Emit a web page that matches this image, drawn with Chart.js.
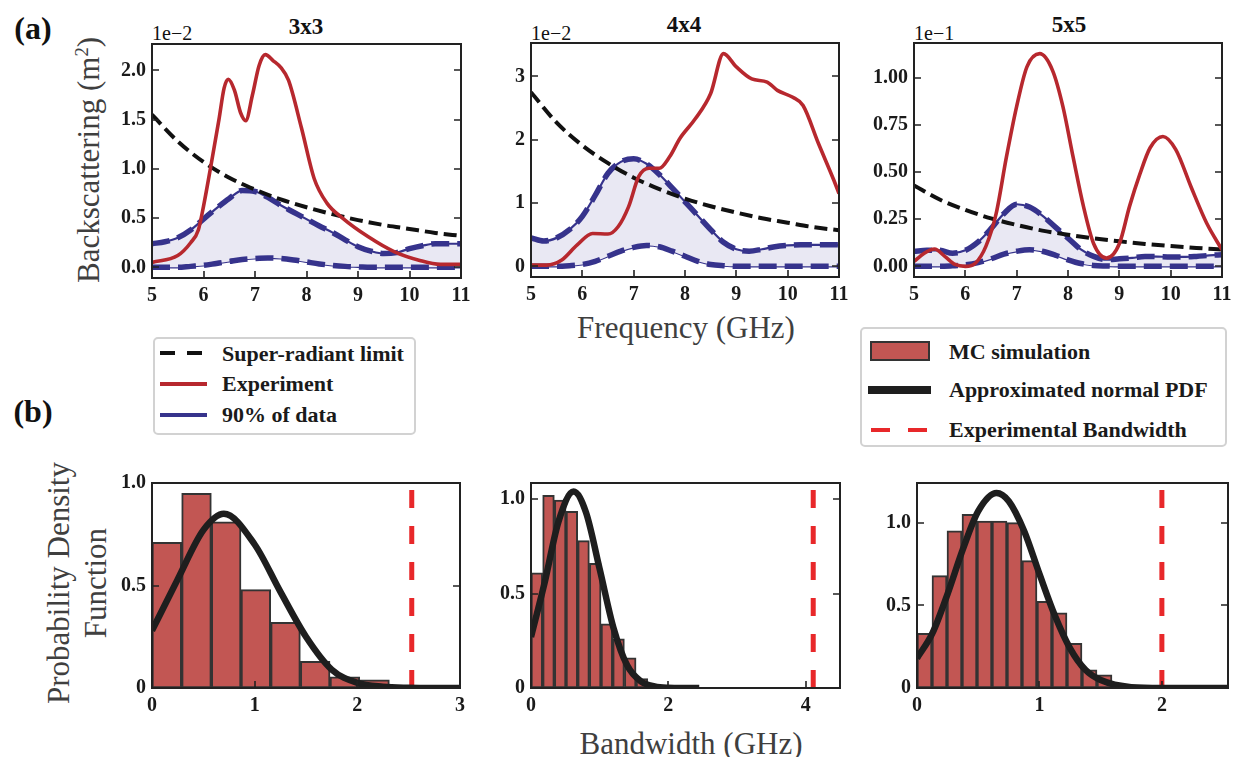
<!DOCTYPE html>
<html><head><meta charset="utf-8">
<script src="https://cdn.jsdelivr.net/npm/chart.js"></script>
<style>
html,body{margin:0;padding:0;background:#fff;}
#page{position:relative;width:1239px;height:757px;overflow:hidden;font-family:'Liberation Serif','Times New Roman',serif;color:#111;}
.t{position:absolute;white-space:nowrap;transform:translate(-50%,-50%);line-height:1;}
.l{position:absolute;white-space:nowrap;transform:translateY(-50%);line-height:1;}
.rot{transform:translate(-50%,-50%) rotate(-90deg);}
.ax{color:#3f3f3f;font-size:31px;}
.lg{font-size:22px;font-weight:bold;color:#1a1a1a;}
.box{position:absolute;border:2px solid #d2d2d2;border-radius:5px;box-sizing:border-box;}
.h{position:absolute;}
sup{font-size:0.6em;position:relative;top:-0.6em;vertical-align:baseline;}
canvas{position:absolute;}
</style></head><body><div id="page">
<div class="t" style="left:33px;top:28px;font-size:32px;font-weight:bold;">(a)</div>
<div class="t" style="left:33px;top:411px;font-size:32px;font-weight:bold;">(b)</div>
<div class="t" style="left:306px;top:26px;font-size:23px;font-weight:bold;">3x3</div>
<div class="t" style="left:684px;top:24px;font-size:23px;font-weight:bold;">4x4</div>
<div class="t" style="left:1069px;top:24px;font-size:23px;font-weight:bold;">5x5</div>
<div class="l" style="left:152px;top:33px;font-size:20px;">1e−2</div>
<div class="l" style="left:531px;top:33px;font-size:20px;">1e−2</div>
<div class="l" style="left:914px;top:33px;font-size:20px;">1e−1</div>
<div class="t rot ax" style="left:88px;top:160px;">Backscattering (m<sup>2</sup>)</div>
<div class="t ax" style="left:686px;top:327px;">Frequency (GHz)</div>
<div class="t rot ax" style="left:78px;top:583px;line-height:1.18;text-align:center;">Probability Density<br>Function</div>
<div class="t ax" style="left:691px;top:743px;">Bandwidth (GHz)</div>

<div class="box" style="left:153px;top:337px;width:263px;height:98px;"></div>
<div class="h" style="left:160px;top:351px;width:15px;height:4px;background:#111;"></div>
<div class="h" style="left:187px;top:351px;width:15px;height:4px;background:#111;"></div>
<div class="h" style="left:160px;top:382px;width:47px;height:4px;background:#b7282e;"></div>
<div class="h" style="left:160px;top:413px;width:47px;height:4px;background:#36338c;"></div>
<div class="l lg" style="left:222px;top:354px;">Super-radiant limit</div>
<div class="l lg" style="left:222px;top:384px;">Experiment</div>
<div class="l lg" style="left:222px;top:415px;">90% of data</div>

<div class="box" style="left:860px;top:327px;width:367px;height:120px;"></div>
<div class="h" style="left:870px;top:341px;width:60px;height:20px;box-sizing:border-box;background:#c25653;border:2.5px solid #333;"></div>
<div class="h" style="left:868px;top:386px;width:63px;height:8px;background:#1e1e1e;"></div>
<div class="h" style="left:871px;top:428px;width:19px;height:4px;background:#e8282a;"></div>
<div class="h" style="left:908px;top:428px;width:19px;height:4px;background:#e8282a;"></div>
<div class="l lg" style="left:949px;top:352px;">MC simulation</div>
<div class="l lg" style="left:949px;top:390px;">Approximated normal PDF</div>
<div class="l lg" style="left:949px;top:430px;">Experimental Bandwidth</div>
</div>
<script>
// ---------- data ----------
const freqTicks = [5, 6, 7, 8, 9, 10, 11];
const freqTickLabels = ['5', '6', '7', '8', '9', '10', '11'];

const limitFreq = [5, 5.5, 6, 6.5, 7, 7.5, 8, 8.5, 9, 9.5, 10, 10.5, 11];
const limit3 = [1.55, 1.28, 1.07, 0.91, 0.79, 0.69, 0.61, 0.54, 0.48, 0.43, 0.39, 0.35, 0.32];
const limit4 = [2.75, 2.27, 1.91, 1.63, 1.40, 1.22, 1.07, 0.95, 0.85, 0.76, 0.69, 0.62, 0.57];
const limit5 = [0.43, 0.355, 0.30, 0.255, 0.22, 0.19, 0.168, 0.149, 0.133, 0.119, 0.108, 0.098, 0.089];

const bandFreq = [5, 5.25, 5.5, 5.75, 6, 6.25, 6.5, 6.75, 7, 7.25, 7.5, 7.75, 8, 8.25, 8.5, 8.75, 9, 9.25, 9.5, 9.75, 10, 10.25, 10.5, 10.75, 11];
const upper3 = [0.24, 0.26, 0.30, 0.38, 0.49, 0.60, 0.70, 0.78, 0.77, 0.71, 0.63, 0.56, 0.49, 0.42, 0.355, 0.28, 0.21, 0.165, 0.14, 0.15, 0.19, 0.22, 0.24, 0.24, 0.24];
const lower3 = [0, 0, 0, 0.01, 0.02, 0.04, 0.06, 0.08, 0.09, 0.095, 0.09, 0.075, 0.055, 0.035, 0.02, 0.01, 0.005, 0, 0, 0, 0, 0, 0, 0, 0];
const upper4 = [0.45, 0.40, 0.45, 0.58, 0.79, 1.12, 1.47, 1.65, 1.70, 1.62, 1.45, 1.24, 1.02, 0.80, 0.58, 0.38, 0.27, 0.24, 0.27, 0.31, 0.33, 0.34, 0.34, 0.34, 0.34];
const lower4 = [0, 0, 0, 0.01, 0.03, 0.08, 0.16, 0.24, 0.30, 0.33, 0.31, 0.24, 0.16, 0.08, 0.03, 0.01, 0, 0, 0, 0, 0, 0, 0, 0, 0];
const upper5 = [0.08, 0.085, 0.085, 0.07, 0.085, 0.13, 0.20, 0.28, 0.33, 0.315, 0.27, 0.21, 0.15, 0.09, 0.053, 0.035, 0.04, 0.045, 0.053, 0.052, 0.05, 0.05, 0.053, 0.058, 0.062];
const lower5 = [0, 0, 0, 0.003, 0.008, 0.02, 0.04, 0.065, 0.08, 0.088, 0.08, 0.06, 0.035, 0.015, 0.005, 0.002, 0, 0, 0, 0, 0, 0, 0, 0, 0];

const exp3Freq = [5, 5.5, 5.75, 5.9, 6.0, 6.15, 6.3, 6.4, 6.48, 6.6, 6.72, 6.82, 6.95, 7.08, 7.2, 7.35, 7.5, 7.65, 7.9, 8.15, 8.4, 8.7, 9.2, 9.7, 10.2, 10.6, 11];
const exp3 = [0.05, 0.12, 0.25, 0.38, 0.62, 1.05, 1.5, 1.82, 1.91, 1.8, 1.57, 1.49, 1.75, 2.05, 2.16, 2.1, 2.03, 1.9, 1.42, 0.9, 0.65, 0.5, 0.31, 0.16, 0.07, 0.03, 0.03];
const exp4Freq = [5, 5.3, 5.6, 5.9, 6.2, 6.5, 6.7, 6.9, 7.1, 7.3, 7.5, 7.7, 7.9, 8.2, 8.5, 8.75, 9.0, 9.3, 9.6, 9.8, 10.1, 10.3, 10.6, 10.9, 11];
const exp4 = [0.02, 0.02, 0.1, 0.34, 0.52, 0.51, 0.63, 0.94, 1.42, 1.55, 1.55, 1.73, 2.02, 2.33, 2.73, 3.36, 3.15, 2.96, 2.91, 2.78, 2.67, 2.54, 1.94, 1.36, 1.15];
const exp5Freq = [5, 5.2, 5.4, 5.6, 5.8, 6.0, 6.2, 6.4, 6.6, 6.8, 7.0, 7.2, 7.45, 7.7, 7.9, 8.1, 8.3, 8.5, 8.75, 9.0, 9.2, 9.4, 9.6, 9.85, 10.1, 10.4, 10.7, 11];
const exp5 = [0.026, 0.07, 0.092, 0.053, 0.01, 0.0, 0.018, 0.106, 0.28, 0.58, 0.85, 1.06, 1.13, 1.04, 0.85, 0.58, 0.32, 0.12, 0.044, 0.12, 0.32, 0.49, 0.63, 0.69, 0.62, 0.42, 0.23, 0.088];

const yTicks3 = [0, 0.5, 1.0, 1.5, 2.0];
const yTickLabels3 = ['0.0', '0.5', '1.0', '1.5', '2.0'];
const yTicks4 = [0, 1, 2, 3];
const yTickLabels4 = ['0', '1', '2', '3'];
const yTicks5 = [0, 0.25, 0.5, 0.75, 1.0];
const yTickLabels5 = ['0.00', '0.25', '0.50', '0.75', '1.00'];

// histograms (bin edges, density)
const bw3Edges = [0, 0.289, 0.578, 0.867, 1.156, 1.445, 1.734, 2.023, 2.312];
const bw3Density = [0.71, 0.95, 0.81, 0.48, 0.32, 0.13, 0.055, 0.04];
const bw4Edges = [0, 0.17, 0.34, 0.51, 0.68, 0.85, 1.02, 1.19, 1.36, 1.53, 1.70, 1.87, 2.04, 2.21, 2.38];
const bw4Density = [0.61, 1.02, 0.995, 0.935, 0.78, 0.66, 0.34, 0.26, 0.16, 0.05, 0.02, 0.01, 0.01, 0.01];
const bw5Edges = [0, 0.1225, 0.245, 0.3675, 0.49, 0.6125, 0.735, 0.8575, 0.98, 1.1025, 1.225, 1.3475, 1.47, 1.5925];
const bw5Density = [0.33, 0.68, 0.95, 1.05, 1.01, 1.01, 1.0, 0.77, 0.525, 0.455, 0.27, 0.11, 0.08];

const pdf3X = [0, 0.25, 0.5, 0.7, 1.0, 1.25, 1.5, 1.75, 2.0, 2.25, 2.5, 2.75, 3.0];
const pdf3Y = [0.28, 0.53, 0.77, 0.85, 0.70, 0.47, 0.25, 0.09, 0.025, 0.006, 0.001, 0, 0];
const pdf4X = [0, 0.2, 0.4, 0.62, 0.8, 1.0, 1.2, 1.4, 1.6, 1.8, 2.0, 2.2, 2.45];
const pdf4Y = [0.27, 0.56, 0.88, 1.04, 0.93, 0.63, 0.32, 0.12, 0.035, 0.008, 0.001, 0, 0];
const pdf5X = [0, 0.125, 0.25, 0.375, 0.5, 0.65, 0.75, 0.875, 1.0, 1.125, 1.25, 1.375, 1.5, 1.75, 2.0, 2.54];
const pdf5Y = [0.18, 0.33, 0.57, 0.84, 1.07, 1.18, 1.13, 0.95, 0.69, 0.44, 0.24, 0.11, 0.048, 0.005, 0, 0];

const expBandwidth = [2.53, 4.11, 2.0];

const bwTicks3 = [0, 1, 2, 3], bwTickLabels3 = ['0', '1', '2', '3'];
const bwTicks4 = [0, 2, 4], bwTickLabels4 = ['0', '2', '4'];
const bwTicks5 = [0, 1, 2], bwTickLabels5 = ['0', '1', '2'];
const pdfTicks = [0, 0.5, 1.0], pdfTickLabels = ['0', '0.5', '1.0'];

// ---------- drawing ----------
const BLUE = '#36338c', LAV = '#e9e8f3', RED = '#b7282e', VRED = '#e8282a';
const FONT = {family: "'Liberation Serif','Times New Roman',serif", size: 20, weight: 'bold'};

const frameTicks = {
  id: 'frameTicks',
  afterDatasetsDraw(chart) {
    const {ctx, chartArea: a, scales: {x, y}} = chart;
    ctx.save();
    ctx.strokeStyle = '#222';
    ctx.lineWidth = 1.6;
    ctx.beginPath();
    x.ticks.forEach(t => { const p = Math.round(x.getPixelForValue(t.value)); ctx.moveTo(p, a.bottom); ctx.lineTo(p, a.bottom - 7); });
    y.ticks.forEach(t => { const p = Math.round(y.getPixelForValue(t.value)); ctx.moveTo(a.left, p); ctx.lineTo(a.left + 7, p); ctx.moveTo(a.right, p); ctx.lineTo(a.right - 7, p); });
    ctx.stroke();
    ctx.lineWidth = 2;
    ctx.strokeRect(a.left, a.top, a.right - a.left, a.bottom - a.top);
    ctx.restore();
  }
};

const pts = (xs, ys) => xs.map((x, i) => ({x: x, y: ys[i]}));
const line = (o) => Object.assign({type: 'line', pointRadius: 0, fill: false, cubicInterpolationMode: 'monotone', borderCapStyle: 'butt'}, o);

function panel(area, type, datasets, xs, ys) {
  const ML = 70, MT = 24, MR = 24, MB = 36;
  const w = area.r - area.l + ML + MR, h = area.b - area.t + MT + MB;
  const cv = document.createElement('canvas');
  cv.width = w; cv.height = h;
  cv.style.left = (area.l - ML) + 'px'; cv.style.top = (area.t - MT) + 'px';
  cv.style.width = w + 'px'; cv.style.height = h + 'px';
  document.getElementById('page').appendChild(cv);
  const axis = (s, isX) => ({
    type: 'linear', min: s.min, max: s.max, offset: false,
    grid: {display: false, drawTicks: false}, border: {display: false},
    ticks: {font: FONT, color: '#1a1a1a', padding: isX ? 6 : 6, autoSkip: false, maxRotation: 0,
            callback: (v, i) => s.labels[i]},
    afterBuildTicks: sc => { sc.ticks = s.ticks.map(v => ({value: v})); },
    afterFit: sc => { if (isX) sc.height = MB; else sc.width = ML; }
  });
  return new Chart(cv, {
    type: type,
    data: {datasets: datasets},
    options: {
      responsive: false, animation: false, devicePixelRatio: 1,
      layout: {padding: {left: 0, top: MT, right: MR, bottom: 0}},
      plugins: {legend: {display: false}, tooltip: {enabled: false}},
      scales: {x: axis(xs, true), y: axis(ys, false)}
    },
    plugins: [frameTicks]
  });
}

function topSets(ex, ey, lim, up, lo) {
  return [
    line({data: pts(ex, ey), borderColor: RED, borderWidth: 3.6}),
    line({data: pts(limitFreq, lim), borderColor: '#111', borderWidth: 4, borderDash: [13, 6]}),
    line({data: pts(bandFreq, up), borderColor: BLUE, borderWidth: 5.5, borderDash: [18, 8]}),
    line({data: pts(bandFreq, lo), borderColor: BLUE, borderWidth: 5.5, borderDash: [18, 8]}),
    line({data: pts(bandFreq, up), borderColor: BLUE, borderWidth: 2.2, fill: '+1', backgroundColor: LAV}),
    line({data: pts(bandFreq, lo), borderColor: BLUE, borderWidth: 2.2})
  ];
}

function histSets(edges, dens, px, py, vline, ytop) {
  const centers = dens.map((d, i) => (edges[i] + edges[i + 1]) / 2);
  return [
    line({data: pts(px, py), borderColor: '#1e1e1e', borderWidth: 6.5}),
    line({data: [{x: vline, y: 0}, {x: vline, y: ytop}], borderColor: VRED, borderWidth: 5, borderDash: [18, 18], cubicInterpolationMode: 'default', tension: 0}),
    {type: 'bar', data: pts(centers, dens), backgroundColor: '#c25653', borderColor: '#333', borderWidth: 2,
     borderSkipped: false, barPercentage: 1, categoryPercentage: 1, grouped: false}
  ];
}

const fx = {min: 5, max: 11, ticks: freqTicks, labels: freqTickLabels};
panel({l: 152, t: 44, r: 461, b: 278}, 'line', topSets(exp3Freq, exp3, limit3, upper3, lower3), fx,
      {min: -0.108, max: 2.268, ticks: yTicks3, labels: yTickLabels3});
panel({l: 531, t: 43, r: 839, b: 277}, 'line', topSets(exp4Freq, exp4, limit4, upper4, lower4), fx,
      {min: -0.168, max: 3.528, ticks: yTicks4, labels: yTickLabels4});
panel({l: 914, t: 43, r: 1222, b: 277}, 'line', topSets(exp5Freq, exp5, limit5, upper5, lower5), fx,
      {min: -0.0565, max: 1.1865, ticks: yTicks5, labels: yTickLabels5});

panel({l: 152, t: 483, r: 460, b: 688}, 'bar', histSets(bw3Edges, bw3Density, pdf3X, pdf3Y, expBandwidth[0], 1.0),
      {min: 0, max: 3, ticks: bwTicks3, labels: bwTickLabels3}, {min: 0, max: 1.0, ticks: pdfTicks, labels: pdfTickLabels});
panel({l: 531, t: 483, r: 840, b: 688}, 'bar', histSets(bw4Edges, bw4Density, pdf4X, pdf4Y, expBandwidth[1], 1.085),
      {min: 0, max: 4.5, ticks: bwTicks4, labels: bwTickLabels4}, {min: 0, max: 1.085, ticks: pdfTicks, labels: pdfTickLabels});
panel({l: 917, t: 483, r: 1228, b: 688}, 'bar', histSets(bw5Edges, bw5Density, pdf5X, pdf5Y, expBandwidth[2], 1.24),
      {min: 0, max: 2.54, ticks: bwTicks5, labels: bwTickLabels5}, {min: 0, max: 1.24, ticks: pdfTicks, labels: pdfTickLabels});
</script>
</body></html>
